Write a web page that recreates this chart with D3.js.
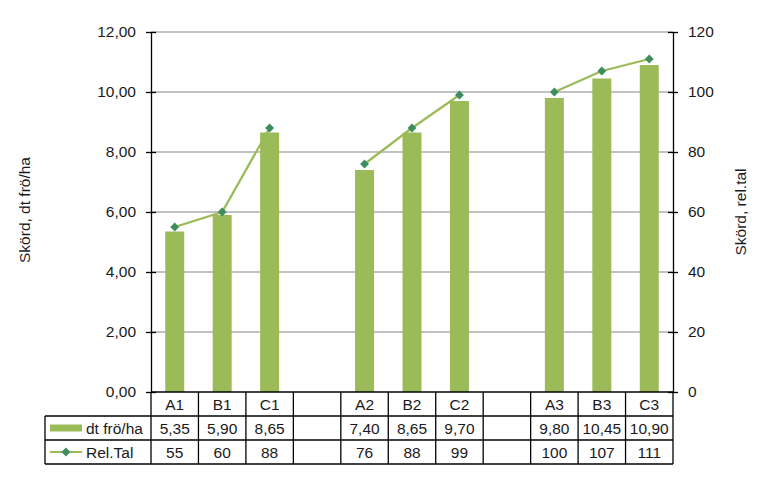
<!DOCTYPE html>
<html><head><meta charset="utf-8">
<script src="https://cdn.jsdelivr.net/npm/d3@7"></script>
<style>body{margin:0;background:#fff}svg{display:block;font-family:"Liberation Sans",Arial,sans-serif}</style>
</head><body><svg id="c" width="781" height="495"></svg>
<script>
const categories = ["A1","B1","C1","","A2","B2","C2","","A3","B3","C3"];
const yieldValues = [5.35,5.90,8.65,null,7.40,8.65,9.70,null,9.80,10.45,10.90];
const relValues = [55,60,88,null,76,88,99,null,100,107,111];
const leftTicks = [0,2,4,6,8,10,12];
const rightTicks = [0,20,40,60,80,100,120];
const seriesNames = ["dt frö/ha","Rel.Tal"];
const axisTitles = ["Skörd, dt frö/ha","Skörd, rel.tal"];

const svg = d3.select("#c");
const L = 151, R = 673, T = 32, B = 392;
const rowH = 24, tableLeft = 45;
const fs = 15.5;
const txtCol = "#1a1a1a";
const barColor = "#9BBB59", lineColor = "#9BBB59", markerColor = "#3D8E5C";
const fmt = v => v == null ? "" : v.toFixed(2).replace(".", ",");

const x = d3.scaleBand().domain(d3.range(categories.length)).range([L, R]).paddingInner(0).paddingOuter(0);
const yL = d3.scaleLinear().domain([0, 12]).range([B, T]);
const yR = d3.scaleLinear().domain([0, 120]).range([B, T]);

// gridlines
svg.append("g").selectAll("line").data(leftTicks.filter(t => t > 0)).join("line")
  .attr("x1", L).attr("x2", R).attr("y1", d => yL(d)).attr("y2", d => yL(d))
  .attr("stroke", "#868686").attr("stroke-width", 1.2);

// bars
const bw = x.bandwidth() * 0.4;
svg.append("g").selectAll("rect").data(yieldValues.map((v, i) => ({v, i})).filter(d => d.v != null)).join("rect")
  .attr("x", d => x(d.i) + x.bandwidth() / 2 - bw / 2)
  .attr("width", bw)
  .attr("y", d => yL(d.v))
  .attr("height", d => B - yL(d.v))
  .attr("fill", barColor);

// line
const pts = relValues.map((v, i) => ({v, i}));
const line = d3.line().defined(d => d.v != null)
  .x(d => x(d.i) + x.bandwidth() / 2).y(d => yR(d.v));
svg.append("path").datum(pts).attr("d", line).attr("fill", "none")
  .attr("stroke", lineColor).attr("stroke-width", 2.25);
const diamond = d3.symbol().type(d3.symbolDiamond2).size(50);
svg.append("g").selectAll("path").data(pts.filter(d => d.v != null)).join("path")
  .attr("d", diamond)
  .attr("transform", d => `translate(${x(d.i) + x.bandwidth() / 2},${yR(d.v)})`)
  .attr("fill", markerColor);

// axes
const leftAxis = d3.axisLeft(yL).tickValues(leftTicks).tickSizeInner(5).tickSizeOuter(0).tickPadding(10).tickFormat(fmt);
const gl = svg.append("g").attr("transform", `translate(${L},0)`).call(leftAxis);
gl.select(".domain").attr("stroke", "#000").attr("stroke-width", 1.3);
gl.selectAll(".tick line").attr("x1", -5).attr("x2", 5).attr("stroke", "#000").attr("stroke-width", 1.3);
gl.selectAll(".tick text").attr("font-size", fs).attr("font-family", "Liberation Sans, Arial, sans-serif").attr("fill", txtCol);

const rightAxis = d3.axisRight(yR).tickValues(rightTicks).tickSizeInner(5).tickSizeOuter(0).tickPadding(10);
const gr = svg.append("g").attr("transform", `translate(${R},0)`).call(rightAxis);
gr.select(".domain").attr("stroke", "#000").attr("stroke-width", 1.3);
gr.selectAll(".tick line").attr("x1", -5).attr("x2", 5).attr("stroke", "#000").attr("stroke-width", 1.3);
gr.selectAll(".tick text").attr("font-size", fs).attr("font-family", "Liberation Sans, Arial, sans-serif").attr("fill", txtCol);

// axis titles
svg.append("text").attr("transform", `translate(30,${(T + B) / 2 - 2}) rotate(-90)`)
  .attr("text-anchor", "middle").attr("font-size", fs).attr("fill", txtCol).text(axisTitles[0]);
svg.append("text").attr("transform", `translate(746,${(T + B) / 2}) rotate(-90)`)
  .attr("text-anchor", "middle").attr("font-size", fs).attr("fill", txtCol).text(axisTitles[1]);

// data table
const tg = svg.append("g").attr("stroke", "#000").attr("stroke-width", 1.3);
tg.append("line").attr("x1", L).attr("x2", R).attr("y1", B).attr("y2", B);
[1, 2, 3].forEach(k => {
  tg.append("line").attr("x1", tableLeft).attr("x2", R)
    .attr("y1", B + k * rowH).attr("y2", B + k * rowH);
});
tg.append("line").attr("x1", tableLeft).attr("x2", tableLeft).attr("y1", B + rowH).attr("y2", B + 3 * rowH);
d3.range(categories.length + 1).forEach(i => {
  const xx = i < categories.length ? x(i) : R;
  tg.append("line").attr("x1", xx).attr("x2", xx).attr("y1", B).attr("y2", B + 3 * rowH);
});

const tt = svg.append("g").attr("font-size", fs).attr("text-anchor", "middle").attr("fill", txtCol);
categories.forEach((c, i) => {
  const cx = x(i) + x.bandwidth() / 2;
  tt.append("text").attr("x", cx).attr("y", B + rowH / 2 + 5.5).text(c);
  tt.append("text").attr("x", cx).attr("y", B + rowH * 1.5 + 5.5).text(fmt(yieldValues[i]));
  tt.append("text").attr("x", cx).attr("y", B + rowH * 2.5 + 5.5).text(relValues[i] == null ? "" : relValues[i]);
});

// legend keys
svg.append("rect").attr("x", 50).attr("y", B + rowH * 1.5 - 3.5).attr("width", 32).attr("height", 7).attr("fill", barColor);
svg.append("text").attr("x", 86).attr("y", B + rowH * 1.5 + 5.5).attr("font-size", fs).attr("fill", txtCol).text(seriesNames[0]);
svg.append("line").attr("x1", 50).attr("x2", 82).attr("y1", B + rowH * 2.5).attr("y2", B + rowH * 2.5)
  .attr("stroke", lineColor).attr("stroke-width", 2);
svg.append("path").attr("d", diamond).attr("transform", `translate(66,${B + rowH * 2.5})`).attr("fill", markerColor);
svg.append("text").attr("x", 86).attr("y", B + rowH * 2.5 + 5.5).attr("font-size", fs).attr("fill", txtCol).text(seriesNames[1]);
</script></body></html>
